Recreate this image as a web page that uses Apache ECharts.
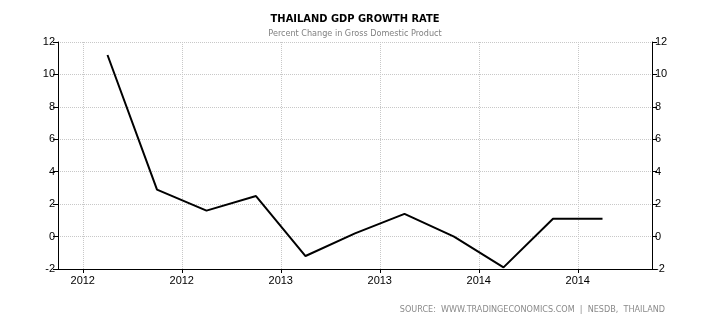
<!DOCTYPE html>
<html>
<head>
<meta charset="utf-8">
<script src="https://cdn.jsdelivr.net/npm/echarts@6/dist/echarts.min.js"></script>
<style>html,body{margin:0;padding:0;background:#fff}#c{width:710px;height:325px}</style>
</head>
<body>
<div id="c"></div>
<script>
// Quarterly GDP growth (Q1 2012 .. Q3 2014), percent change
var quarters = ['2012Q1','2012Q2','2012Q3','2012Q4','2013Q1','2013Q2','2013Q3','2013Q4','2014Q1','2014Q2','2014Q3'];
var growth = [11.2, 2.9, 1.6, 2.5, -1.2, 0.2, 1.4, 0.0, -1.9, 1.1, 1.1];
// x tick positions (in quarter index units) and their labels
var xTickPositions = [-0.5, 1.5, 3.5, 5.5, 7.5, 9.5];
var xTickLabels = ['2012', '2012', '2013', '2013', '2014', '2014'];

var chart = echarts.init(document.getElementById('c'), null, {renderer: 'canvas'});
var seriesData = growth.map(function (v, i) { return [i, v]; });
var labelFont = {color: '#000', fontFamily: 'Liberation Sans, Arial, sans-serif', fontSize: 11};
function yAxisDef(pos) {
  return {
    type: 'value', position: pos, min: -2, max: 12, interval: 2,
    axisLine: {show: true, onZero: false, lineStyle: {color: '#000', width: 1}},
    axisTick: {show: true, inside: false, length: 5, lineStyle: {color: '#000'}},
    axisLabel: Object.assign({margin: 3}, labelFont),
    splitLine: {show: pos === 'left', lineStyle: {color: '#c8c8c8', type: 'dotted', width: 1}}
  };
}
chart.setOption({
  animation: false,
  backgroundColor: '#fff',
  title: [{
    text: 'THAILAND GDP GROWTH RATE',
    left: 'center', top: 9,
    textStyle: {fontFamily: 'DejaVu Sans Condensed, DejaVu Sans, sans-serif', fontWeight: 'bold', fontSize: 11, color: '#000'},
    subtext: 'Percent Change in Gross Domestic Product',
    itemGap: 4,
    subtextStyle: {fontFamily: 'DejaVu Sans Condensed, DejaVu Sans, sans-serif', fontSize: 9, color: '#808080'}
  }],
  graphic: [{
    type: 'text', right: 45, top: 305,
    style: {text: 'SOURCE:  WWW.TRADINGECONOMICS.COM  |  NESDB,  THAILAND', fill: '#8a8a8a',
      font: '9px "DejaVu Sans Condensed", "DejaVu Sans", sans-serif'}
  }],
  grid: {left: 58, right: 58, top: 42, bottom: 56, containLabel: false},
  xAxis: {
    type: 'value', min: -1, max: 11,
    axisLine: {show: true, onZero: false, lineStyle: {color: '#000'}},
    axisTick: {show: true, length: 4, customValues: xTickPositions, lineStyle: {color: '#000'}},
    axisLabel: Object.assign({
      margin: 6,
      customValues: xTickPositions,
      formatter: function (v) {
        var idx = xTickPositions.indexOf(v);
        return idx >= 0 ? xTickLabels[idx] : '';
      }
    }, labelFont),
    splitLine: {show: true, lineStyle: {color: '#c8c8c8', type: 'dotted', width: 1}}
  },
  yAxis: [yAxisDef('left'), yAxisDef('right')],
  series: [{
    type: 'line', data: seriesData, yAxisIndex: 0,
    showSymbol: false, symbol: 'none',
    lineStyle: {color: '#000', width: 2}
  }]
});
</script>
</body>
</html>
